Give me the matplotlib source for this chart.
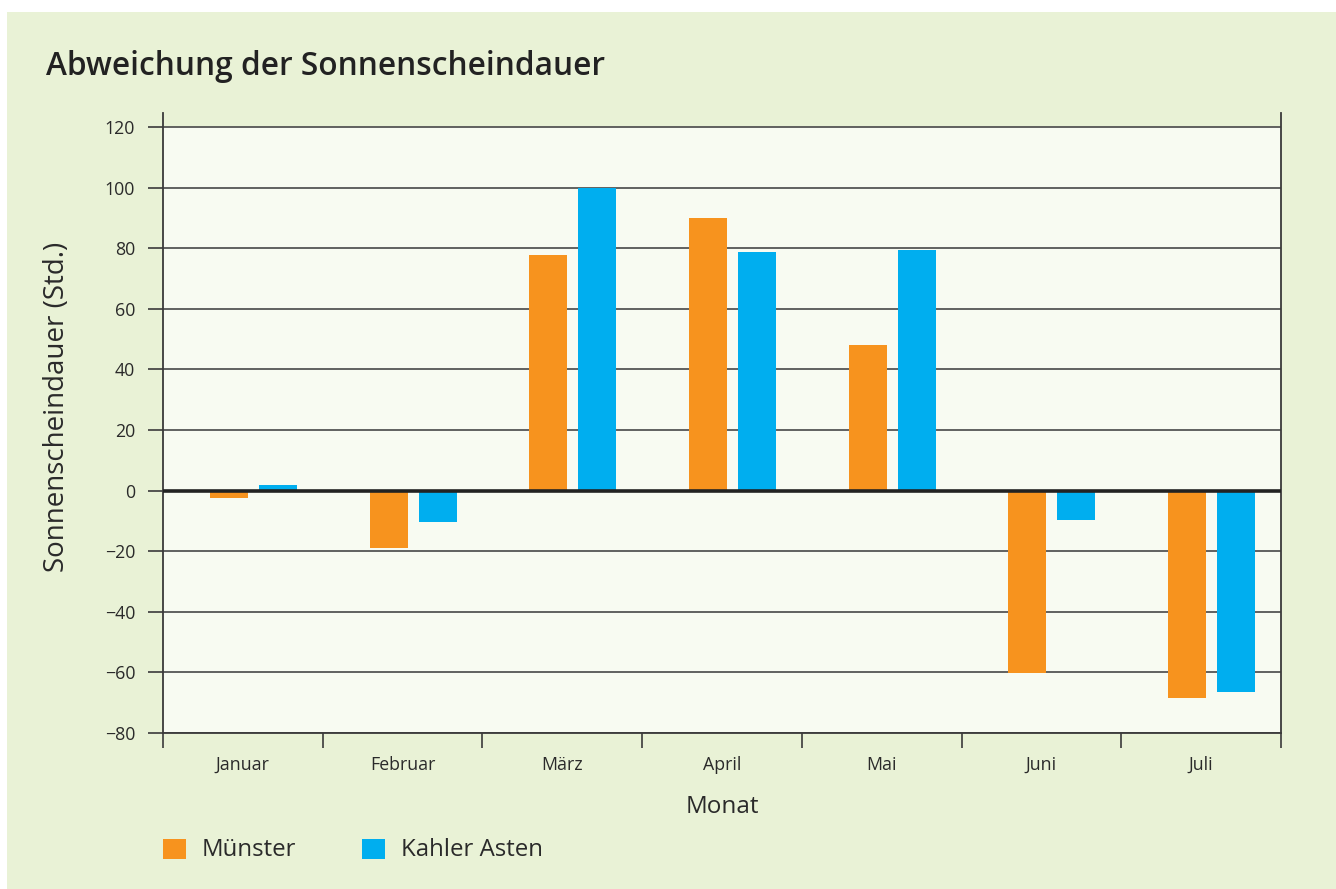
import matplotlib
matplotlib.use("Agg")
import matplotlib.pyplot as plt
from matplotlib.patches import Rectangle
import numpy as np

# Daten
monate = ["Januar", "Februar", "März", "April", "Mai", "Juni", "Juli"]
muenster = [-2.5, -19, 77.8, 90, 48, -60.2, -68.5]
kahler_asten = [1.8, -10.5, 100, 78.6, 79.5, -9.8, -66.5]
y_ticks = [-80, -60, -40, -20, 0, 20, 40, 60, 80, 100, 120]

orange = "#F7931E"
blau = "#00AEEF"
gruen = "#E9F2D6"
hell = "#F8FBF2"
dunkel = "#3a3a3a"

plt.rcParams["font.family"] = ["Open Sans", "DejaVu Sans"]

W, H = 1336, 889
fig = plt.figure(figsize=(W / 100, H / 100), dpi=100)
fig.patch.set_facecolor("white")
fig.add_artist(Rectangle((7 / W, 0), 1 - 7 / W, 1 - 12 / H, transform=fig.transFigure,
                         facecolor=gruen, edgecolor="none", zorder=-10))

ax = fig.add_axes([163 / W, 1 - 733 / H, (1281 - 163) / W, (733 - 113) / H])
ax.set_facecolor("none")
ax.set_ylim(-80, 124.6)
ax.set_xlim(0, len(monate))
ax.axhspan(-80, 120, facecolor=hell, edgecolor="none", zorder=0)

x = np.arange(len(monate)) + 0.5
breite = 0.238
ax.bar(x - 0.088, muenster, breite, color=orange, zorder=3)
ax.bar(x + 0.219, kahler_asten, breite, color=blau, zorder=3)

for t in y_ticks:
    if t == 0:
        continue
    ax.axhline(t, color="#555555", lw=1.3, zorder=1)
ax.axhline(0, color="#222222", lw=2.6, zorder=4)

ax.set_yticks(y_ticks)
ax.set_yticklabels([str(t).replace("-", "\u2212") for t in y_ticks])
ax.tick_params(axis="y", length=11, width=1.2, color=dunkel, pad=9, labelsize=12.8, labelcolor="#2a2a2a")

ax.set_xticks(x)
ax.set_xticklabels(monate)
ax.set_xticks(np.arange(len(monate) + 1), minor=True)
ax.tick_params(axis="x", which="major", length=0, pad=16.5, labelsize=12.8, labelcolor="#2a2a2a")
ax.tick_params(axis="x", which="minor", length=11, width=1.2, color=dunkel)

for s in ["left", "right", "bottom"]:
    ax.spines[s].set_color(dunkel)
    ax.spines[s].set_linewidth(1.3)
ax.spines["top"].set_visible(False)

ax.set_xlabel("Monat", fontsize=17.5, color="#2a2a2a", labelpad=15.5)
fig.text(57 / W, 1 - 407 / H, "Sonnenscheindauer (Std.)", rotation=90, fontsize=20,
         color="#2a2a2a", ha="center", va="center")

fig.text(46 / W, 1 - 75 / H, "Abweichung der Sonnenscheindauer", fontsize=22.8,
         fontweight="semibold", color="#222222", ha="left", va="baseline")

# Legende
for x0, farbe, name in [(163, orange, "Münster"), (362, blau, "Kahler Asten")]:
    fig.add_artist(Rectangle((x0 / W, 1 - 859 / H), 23 / W, 20 / H, transform=fig.transFigure,
                             facecolor=farbe, edgecolor="none"))
    fig.text((x0 + 39) / W, 1 - 850 / H, name, fontsize=17.3, color="#2a2a2a",
             ha="left", va="center")

fig.savefig("out.png", dpi=100)
